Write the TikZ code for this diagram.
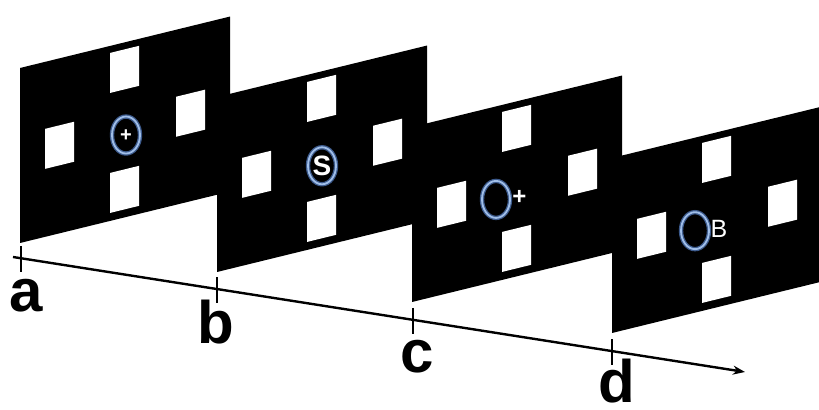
\documentclass[tikz,border=0pt]{standalone}
\usepackage{fontspec}
\setmainfont{Liberation Sans}
\usetikzlibrary{calc,arrows.meta,shapes.geometric}
\definecolor{ringout}{RGB}{60,90,140}
\definecolor{ringin}{RGB}{160,190,232}
\tikzset{
  panelbg/.style={fill=black},
  sq/.style={fill=white},
  ring/.style={ellipse, draw=ringin, line width=0.9pt, minimum width=14pt, minimum height=18.5pt, inner sep=0pt,
    preaction={draw=ringout, line width=2.2pt}},
  sym/.style={text=white, inner sep=0pt, font=\bfseries\fontsize{10}{10}\selectfont},
  letterlbl/.style={font=\bfseries\fontsize{30}{30}\selectfont, anchor=base, inner sep=0pt},
  tickmark/.style={line width=1.3pt},
  timeline/.style={line width=1.2pt, -{Stealth[length=6pt,width=4.5pt]}}
}
\newcommand\panelbody{%
  \fill[panelbg] (0,0) rectangle (210,175);
  \fill[sq] (90,7) rectangle (119,47);
  \fill[sq] (25,67) rectangle (54,107);
  \fill[sq] (156,67) rectangle (185,107);
  \fill[sq] (90,127) rectangle (119,167);
}
\begin{document}
\begin{tikzpicture}[x=0.5pt,y=-0.5pt]
\useasboundingbox (0,0) rectangle (819,410);
\fill[white] (0,0) rectangle (819,410);
\clip (0,0) rectangle (819,410);

% panels
\begin{scope}[shift={(20,68)}, yslant=0.245]
  \panelbody
  \node[ring] (r1) at (106,93) {};
  \node[sym] (s1) at (106,94) {+};
\end{scope}
\begin{scope}[shift={(217,97)}, yslant=0.245]
  \panelbody
  \node[ring] (r2) at (105,94.5) {};
  \node[sym, font=\bfseries\fontsize{14}{14}\selectfont] (s2) at (105,94.5) {S};
\end{scope}
\begin{scope}[shift={(412,127)}, yslant=0.245]
  \panelbody
  \node[ring] (r3) at (84,93) {};
  \node[sym, font=\bfseries\fontsize{12}{12}\selectfont] (s3) at (107.5,97) {+};
\end{scope}
\begin{scope}[shift={(612,158)}, yslant=0.245]
  \panelbody
  \node[ring] (r4) at (83,93) {};
  \node[sym, font=\fontsize{12.5}{12.5}\selectfont] (s4) at (107,97) {B};
\end{scope}

% timeline
\coordinate (tstart) at (13,257);
\coordinate (tend) at (745,372);
\draw[timeline] (tstart) -- (tend);
\coordinate (ta) at ($(tstart)!0.0109!(tend)$);
\coordinate (tb) at ($(tstart)!0.2787!(tend)$);
\coordinate (tc) at ($(tstart)!0.5464!(tend)$);
\coordinate (td) at ($(tstart)!0.8183!(tend)$);
\foreach \t in {ta,tb,tc,td}{
  \draw[tickmark] ($(\t)+(0,-12)$) -- ($(\t)+(0,14)$);
}

% labels
\node[letterlbl] (la) at (26,312) {a};
\node[letterlbl] (lb) at (216,344) {b};
\node[letterlbl] (lc) at (417,373) {c};
\node[letterlbl] (ld) at (617,403) {d};
\end{tikzpicture}
\end{document}
